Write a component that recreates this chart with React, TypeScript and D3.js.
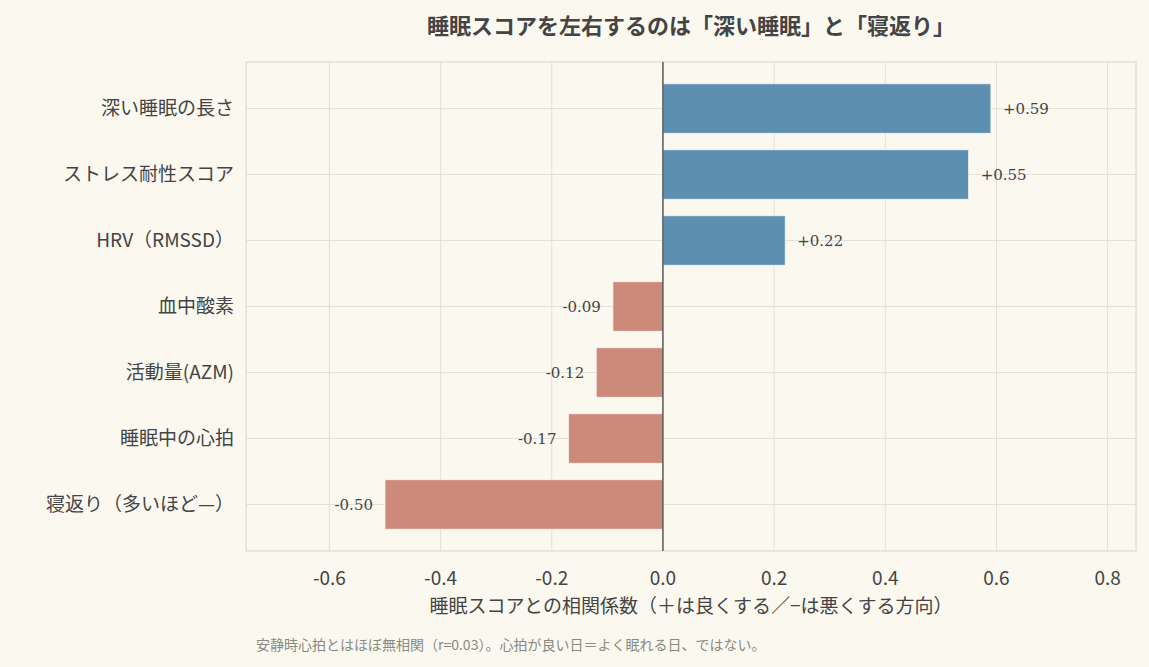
import * as d3 from "d3";

const labels = ["深い睡眠の長さ", "ストレス耐性スコア", "HRV（RMSSD）", "血中酸素", "活動量(AZM)", "睡眠中の心拍", "寝返り（多いほど—）"];
const values = [0.59, 0.55, 0.22, -0.09, -0.12, -0.17, -0.5];
const xTicks = [-0.6, -0.4, -0.2, 0, 0.2, 0.4, 0.6, 0.8];

const W = 1149, H = 667;
const L = 246, R = 1136, T = 62, B = 551;
const SANS = "'Noto Sans CJK JP', 'Noto Sans', sans-serif";

export default function App() {
  const x = d3.scaleLinear().domain([-0.75, 0.851]).range([L, R]);
  const y = d3.scaleBand().domain(labels).range([T, B]).paddingInner(0.25).paddingOuter(0.33);
  const x0 = x(0);
  return (
    <svg width={W} height={H} style={{ position: "absolute", left: 0, top: 0 }}>
      <rect width={W} height={H} fill="#fbf8f0" />
      {xTicks.map(t => (
        <line key={t} x1={x(t)} x2={x(t)} y1={T} y2={B} stroke="#e4e0d8" strokeWidth={1} />
      ))}
      {labels.map(l => (
        <line key={l} x1={L} x2={R} y1={y(l)! + y.bandwidth() / 2} y2={y(l)! + y.bandwidth() / 2} stroke="#e4e0d8" />
      ))}
      <rect x={L} y={T} width={R - L} height={B - T} fill="none" stroke="#dedad2" strokeWidth={1.2} />
      {labels.map((l, i) => {
        const v = values[i];
        const xs = Math.min(x(v), x0);
        const w = Math.abs(x(v) - x0);
        const cy = y(l)! + y.bandwidth() / 2;
        return (
          <g key={l}>
            <rect x={xs} y={y(l)} width={w} height={y.bandwidth()} fill={v >= 0 ? "#4f86ab" : "#c98070"} fillOpacity={0.92} stroke="#fbf8f0" strokeWidth={0.8} />
            <text x={v >= 0 ? x(v) + 12 : x(v) - 12} y={cy} dy="0.35em" textAnchor={v >= 0 ? "start" : "end"} fontFamily="'DejaVu Serif', serif" fontSize={15} fill="#444">
              {(v >= 0 ? "+" : "") + v.toFixed(2)}
            </text>
            <text x={L - 12} y={cy} dy="0.35em" textAnchor="end" fontFamily={SANS} fontSize={19} fill="#444">{l}</text>
          </g>
        );
      })}
      <line x1={x0} x2={x0} y1={T} y2={B} stroke="#444" strokeWidth={1.3} />
      {xTicks.map(t => (
        <text key={t} x={x(t)} y={585} textAnchor="middle" fontFamily={SANS} fontSize={19} fill="#444">{t.toFixed(1)}</text>
      ))}
      <text x={(L + R) / 2} y={613} textAnchor="middle" fontFamily={SANS} fontSize={19} fill="#444">睡眠スコアとの相関係数（＋は良くする／−は悪くする方向）</text>
      <text x={(L + R) / 2} y={34} textAnchor="middle" fontFamily={SANS} fontSize={22} fontWeight="bold" fill="#444">睡眠スコアを左右するのは「深い睡眠」と「寝返り」</text>
      <text x={256} y={650} fontFamily={SANS} fontSize={14} fill="#8a8a80">安静時心拍とはほぼ無相関（r=0.03）。心拍が良い日＝よく眠れる日、ではない。</text>
    </svg>
  );
}
